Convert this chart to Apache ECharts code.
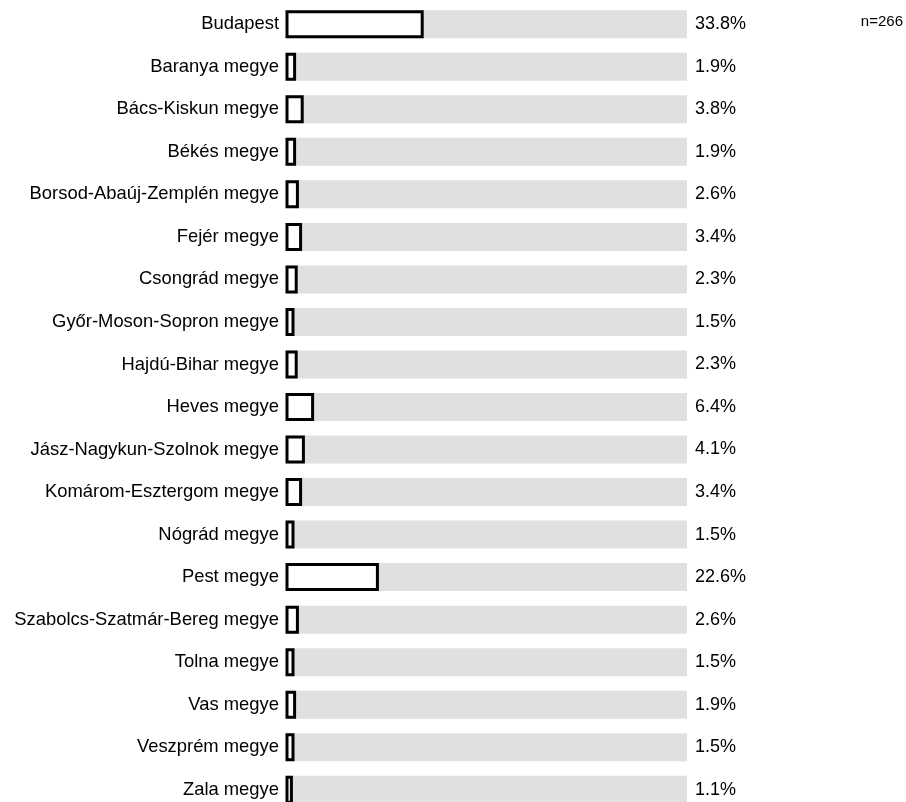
<!DOCTYPE html>
<html>
<head>
<meta charset="utf-8">
<script src="https://cdn.jsdelivr.net/npm/echarts@6/dist/echarts.min.js"></script>
<style>
html,body{margin:0;padding:0;background:#fff;}
#chart{width:906px;height:802px;}
</style>
</head>
<body>
<div id="chart"></div>
<script>
const categories = ["Budapest","Baranya megye","Bács-Kiskun megye","Békés megye","Borsod-Abaúj-Zemplén megye","Fejér megye","Csongrád megye","Győr-Moson-Sopron megye","Hajdú-Bihar megye","Heves megye","Jász-Nagykun-Szolnok megye","Komárom-Esztergom megye","Nógrád megye","Pest megye","Szabolcs-Szatmár-Bereg megye","Tolna megye","Vas megye","Veszprém megye","Zala megye"];
const values = [33.8,1.9,3.8,1.9,2.6,3.4,2.3,1.5,2.3,6.4,4.1,3.4,1.5,22.6,2.6,1.5,1.9,1.5,1.1];
const backgroundValues = categories.map(() => 100);
const percentLabels = values.map(v => v.toFixed(1) + '%');
const noteText = 'n=266';

const chart = echarts.init(document.getElementById('chart'), null, {renderer:'canvas'});
const font = '"Liberation Sans", Arial, sans-serif';
chart.setOption({
  animation: false,
  backgroundColor: '#fff',
  title: {
    text: noteText, right: 3, top: 14, padding: 0,
    textStyle: {fontFamily: font, fontSize: 15, fontWeight: 'normal', color: '#000'}
  },
  grid: {left: 287, width: 400, top: 3, height: 808, outerBoundsMode: 'none', containLabel: false},
  xAxis: {type: 'value', min: 0, max: 100, show: false},
  yAxis: [{
    type: 'category', data: categories, inverse: true,
    axisLine: {show: false}, axisTick: {show: false}, splitLine: {show: false},
    axisLabel: {fontFamily: font, fontSize: 18.4, color: '#000', margin: 8}
  },{
    type: 'category', data: percentLabels, inverse: true, position: 'right',
    axisLine: {show: false}, axisTick: {show: false}, splitLine: {show: false},
    axisLabel: {fontFamily: font, fontSize: 18, color: '#000', margin: 8}
  }],
  series: [{
    type: 'bar', data: backgroundValues, barWidth: 28, silent: true,
    itemStyle: {color: '#e0e0e0'}, z: 1
  },{
    type: 'custom', silent: true, z: 2,
    data: values.map((v, i) => [v, i]),
    encode: {x: 0, y: 1},
    renderItem: function (params, api) {
      const start = api.coord([0, api.value(1)]);
      const end = api.coord([api.value(0), api.value(1)]);
      const h = 25;
      return {
        type: 'rect',
        shape: {x: start[0], y: start[1] - h / 2, width: end[0] - start[0], height: h},
        style: {fill: '#fff', stroke: '#000', lineWidth: 3}
      };
    }
  }]
});
</script>
</body>
</html>
